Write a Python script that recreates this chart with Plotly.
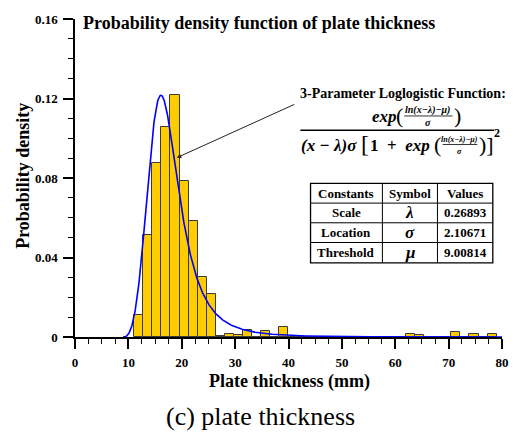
import numpy as np
import plotly.graph_objects as go

# ---------------- data ----------------
bin_start = 11.1
bin_width = 1.6975
density = [0.0110, 0.0514, 0.0875, 0.1058, 0.1217, 0.0783, 0.0582, 0.0300, 0.0214, 0.0006,
           0.0016, 0.0010, 0.0035, 0.0, 0.0028, 0.0, 0.0051, 0.0, 0.0, 0.0,
           0.0, 0.0, 0.0, 0.0, 0.0, 0.0, 0.0, 0.0, 0.0, 0.0,
           0.0013, 0.0008, 0.0, 0.0, 0.0, 0.0026, 0.0, 0.0013, 0.0, 0.0013]

table_header = ["Constants", "Symbol", "Values"]
constants = ["Scale", "Location", "Threshold"]
symbols = ["λ", "σ", "μ"]
values = ["0.26893", "2.10671", "9.00814"]

# fitted 3-parameter loglogistic (parameters as printed in the chart)
fit_scale = 0.26893
fit_location = 2.10671
fit_threshold = 9.00814

x_ticks = [0, 10, 20, 30, 40, 50, 60, 70, 80]
y_ticks = [0, 0.04, 0.08, 0.12, 0.16]

# ---------------- derived ----------------
centers = [bin_start + bin_width * (k + 0.5) for k in range(len(density))]
xc = np.linspace(fit_threshold + 1e-6, 80, 900)
z = (np.log(xc - fit_threshold) - fit_location) / fit_scale
pdf = np.exp(z) / ((xc - fit_threshold) * fit_scale * (1 + np.exp(z)) ** 2)

W, H = 521, 434
L, R, T, B = 75, 14, 14, 97
PW, PH = W - L - R, H - T - B


def px(x):
    return (x - L) / PW


def py(y):
    return (H - B - y) / PH


FONT = "Liberation Serif"

fig = go.Figure()
fig.add_trace(go.Bar(x=centers, y=density, width=bin_width,
                     marker=dict(color="#FFCC00", line=dict(color="#3a3a3a", width=1)),
                     showlegend=False))
fig.add_trace(go.Scatter(x=xc, y=pdf, mode="lines",
                         line=dict(color="#0000FF", width=1.6), showlegend=False))

axis_common = dict(showline=True, linecolor="black", linewidth=1.5, ticks="outside",
                   ticklen=10, tickwidth=1.5, tickcolor="black", showgrid=False,
                   zeroline=False, layer="below traces",
                   tickfont=dict(family=FONT, size=13, color="black", weight="bold"))

fig.update_layout(
    width=W, height=H, margin=dict(l=L, r=R, t=T, b=B),
    paper_bgcolor="white", plot_bgcolor="white", bargap=0,
    xaxis=dict(range=[0, 80], tickvals=x_ticks, ticklabelstandoff=3,
               minor=dict(dtick=2.5, tick0=0, ticks="outside", ticklen=5, tickwidth=1.2,
                          tickcolor="black"),
               **axis_common),
    yaxis=dict(range=[0, 0.16], tickvals=y_ticks, ticktext=["0", "0.04", "0.08", "0.12", "0.16"],
               ticklabelstandoff=3,
               minor=dict(dtick=0.01, tick0=0, ticks="outside", ticklen=5, tickwidth=1.2,
                          tickcolor="black"),
               **axis_common),
)

anns = []
shapes = []


def text(x, y, s, size, xanchor="center", yanchor="middle", angle=0, color="black"):
    anns.append(dict(x=px(x), y=py(y), xref="paper", yref="paper", text=s, showarrow=False,
                     xanchor=xanchor, yanchor=yanchor, textangle=angle, borderpad=0,
                     font=dict(family=FONT, size=size, color=color)))


def hline(x0, x1, y, w=1):
    shapes.append(dict(type="line", xref="paper", yref="paper", x0=px(x0), x1=px(x1),
                       y0=py(y), y1=py(y), line=dict(color="black", width=w)))


def vline(x, y0, y1, w=1):
    shapes.append(dict(type="line", xref="paper", yref="paper", x0=px(x), x1=px(x),
                       y0=py(y0), y1=py(y1), line=dict(color="black", width=w)))


# titles
text(82, 18, "<b>Probability density function of plate thickness</b>", 18, xanchor="left")
text(291.7, 382, "<b>Plate thickness (mm)</b>", 18)
text(21.7, 173, "<b>Probability density</b>", 18, angle=-90)
text(262.5, 418, "(c) plate thickness", 26)

# arrow
anns.append(dict(x=19.07, y=0.0902, xref="x", yref="y", ax=119, ay=-54, text="",
                 showarrow=True, arrowhead=2, arrowsize=0.9, arrowwidth=1, arrowcolor="#222"))

# formula
text(407.3, 90, "<b>3-Parameter Loglogistic Function:</b>", 14)
# numerator
text(388, 113, "<b><i>exp</i></b>", 17)
text(403, 112, "(", 22)
text(432, 106.5, "<b><i>ln(x−λ)−μ)</i></b>", 10)
hline(408, 457, 112.5, 0.8)
text(432, 119.5, "<b><i>σ</i></b>", 10)
text(461.5, 112, ")", 22)
hline(303, 499, 127, 1.5)
# denominator
text(303, 142, "<b><i>(x − λ)σ</i></b>", 17, xanchor="left")
text(368, 141, "[", 24)
text(372, 142, "<b>1&nbsp;&nbsp;+&nbsp;&nbsp;<i>exp</i></b>", 17, xanchor="left")
text(442, 141, "(", 22)
text(464.5, 136, "<b><i>ln(x−λ)−μ)</i></b>", 8)
hline(447, 482, 141.5, 0.8)
text(464.5, 148.5, "<b><i>σ</i></b>", 8)
text(491.5, 141, ")]", 22)
text(502, 130, "<b>2</b>", 12)

# table
tx0, tx1 = 313.3, 497.7
col_x = [313.3, 386, 441.7, 497.7]
row_y = [181, 201, 221, 241, 261.7]
shapes.append(dict(type="rect", xref="paper", yref="paper", x0=px(tx0), x1=px(tx1),
                   y0=py(row_y[0]), y1=py(row_y[-1]), line=dict(color="black", width=1.3),
                   fillcolor="rgba(0,0,0,0)"))
for cx in col_x[1:-1]:
    vline(cx, row_y[0], row_y[-1], 1)
for ry in row_y[1:-1]:
    hline(tx0, tx1, ry, 1)
ccent = [(col_x[i] + col_x[i + 1]) / 2 for i in range(3)]
rcent = [(row_y[i] + row_y[i + 1]) / 2 for i in range(4)]
for i, h in enumerate(table_header):
    text(ccent[i], rcent[0], f"<b>{h}</b>", 13)
for r in range(3):
    text(ccent[0], rcent[r + 1], f"<b>{constants[r]}</b>", 13)
    text(ccent[1], rcent[r + 1], f"<b><i>{symbols[r]}</i></b>", 17)
    text(ccent[2], rcent[r + 1], f"<b>{values[r]}</b>", 13)

fig.update_layout(annotations=anns, shapes=shapes)
fig.write_html("out.html")
